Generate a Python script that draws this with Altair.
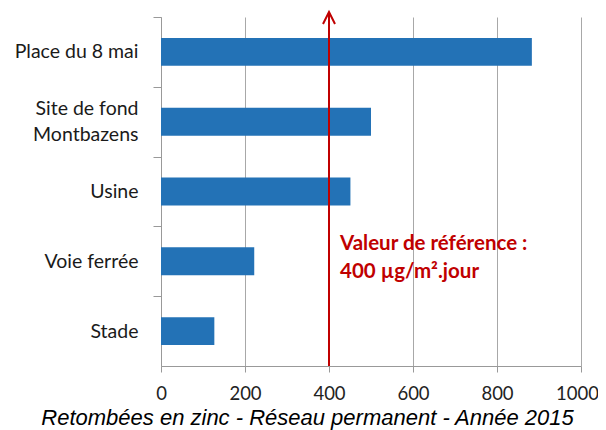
import altair as alt
import pandas as pd

sites = ["Place du 8 mai", "Site de fond Montbazens", "Usine", "Voie ferrée", "Stade"]
values = [883, 500, 451, 222, 127]
ref_value = [400]
ref_label = ["Valeur de référence :", "400 µg/m².jour"]
x_ticks = [0, 200, 400, 600, 800, 1000]
title_text = "Retombées en zinc - Réseau permanent - Année 2015"

W, H = 420, 349
STEP = H / len(sites)
RED = "#c00000"
BLUE = "#2372b6"

df = pd.DataFrame({"site": sites, "value": values})
ref_df = pd.DataFrame({"ref": ref_value})

x_scale = alt.Scale(domain=[0, 1000], nice=False)
y_scale = alt.Scale(domain=sites, paddingInner=0.6, paddingOuter=0.3)

bars = alt.Chart(df).mark_bar(color=BLUE).encode(
    x=alt.X(
        "value:Q",
        scale=x_scale,
        axis=alt.Axis(
            values=x_ticks,
            format="d",
            grid=True,
            gridColor="#a8a8a8",
            domainColor="#999999",
            tickColor="#999999",
            tickSize=6,
            labelFont="Lato",
            labelFontSize=18.5,
            labelColor="#222222",
            labelPadding=12,
            labelFlush=False,
            labelOverlap=False,
            labelOffset={
                "condition": {"test": "datum.value == 1000", "value": -4},
                "value": 0,
            },
            title=title_text,
            titleFont="Liberation Sans",
            titleFontStyle="italic",
            titleFontWeight="normal",
            titleFontSize=22,
            titleColor="#000000",
            titleX=146,
            titleY=51,
            titleAlign="center",
            titleBaseline="middle",
        ),
    ),
    y=alt.Y(
        "site:N",
        scale=y_scale,
        sort=sites,
        axis=alt.Axis(
            title=None,
            tickSize=8,
            tickOffset=-STEP / 2,
            tickColor="#999999",
            domainColor="#999999",
            labelFont="Lato",
            labelFontSize=19.5,
            labelColor="#1a1a1a",
            labelPadding=15,
            labelLineHeight=26,
            labelOffset={
                "condition": {"test": "datum.value == 'Site de fond Montbazens'", "value": STEP / 2 - 13},
                "value": STEP / 2,
            },
            labelExpr="datum.label == 'Site de fond Montbazens' ? ['Site de fond', 'Montbazens'] : datum.label",
        ),
    ),
)

rule = alt.Chart(ref_df).mark_rule(color=RED, strokeWidth=2).encode(
    x=alt.X("ref:Q", scale=x_scale),
    y=alt.value(H),
    y2=alt.value(-5),
)

head = alt.Chart(ref_df).mark_point(
    shape="M-1,2L0,0L1,2",
    size=144,
    filled=False,
    stroke=RED,
    strokeWidth=2,
    opacity=1,
).encode(
    x=alt.X("ref:Q", scale=x_scale),
    y=alt.value(-5),
)

label = alt.Chart(ref_df).mark_text(
    text=ref_label,
    align="left",
    baseline="middle",
    font="Lato",
    fontSize=20.5,
    fontWeight="bold",
    color=RED,
    lineHeight=28,
    dx=11,
).encode(
    x=alt.X("ref:Q", scale=x_scale),
    y=alt.value(227),
)

chart = (
    alt.layer(bars, rule, head, label)
    .properties(
        width=W,
        height=H,
        autosize=alt.AutoSizeParams(type="none"),
        padding={"left": 153, "top": 9, "right": 17, "bottom": 66},
    )
    .configure_view(stroke=None)
)

chart.save("out.html", embed_options={"renderer": "svg", "actions": False})
